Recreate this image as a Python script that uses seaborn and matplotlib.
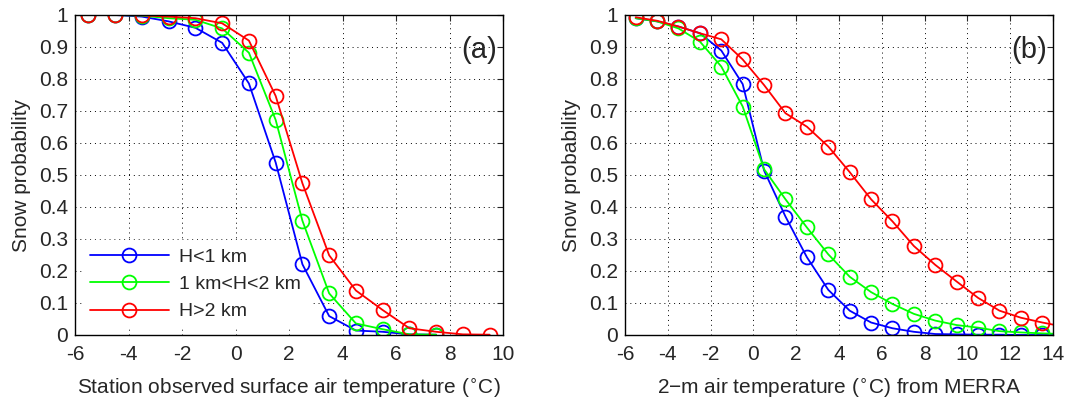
import numpy as np
import pandas as pd
import seaborn as sns
import matplotlib.pyplot as plt
from matplotlib.ticker import FormatStrFormatter

# panel (a): station observed temperature bins
temp_a = [-5.5, -4.5, -3.5, -2.5, -1.5, -0.5, 0.5, 1.5, 2.5, 3.5, 4.5, 5.5, 6.5, 7.5, 8.5, 9.5]
low_a = [1.0, 1.0, 0.995, 0.98, 0.96, 0.913, 0.786, 0.539, 0.221, 0.059, 0.014, 0.01, 0.002, 0.001]
mid_a = [1.0, 1.0, 0.998, 0.99, 0.985, 0.958, 0.882, 0.672, 0.357, 0.13, 0.036, 0.018, 0.002, 0.001]
high_a = [1.0, 1.0, 0.999, 0.995, 0.99, 0.974, 0.92, 0.747, 0.474, 0.249, 0.139, 0.078, 0.021, 0.01, 0.002, 0.001]

# panel (b): MERRA 2-m temperature bins (last bin sits past the axis edge)
temp_b = [-5.5, -4.5, -3.5, -2.5, -1.5, -0.5, 0.5, 1.5, 2.5, 3.5, 4.5, 5.5, 6.5,
          7.5, 8.5, 9.5, 10.5, 11.5, 12.5, 13.5, 14.5]
low_b = [0.99, 0.98, 0.964, 0.943, 0.889, 0.784, 0.514, 0.37, 0.243, 0.141, 0.076,
         0.039, 0.021, 0.01, 0.003, 0.002, 0.001, 0.001, 0.0, 0.0, 0.0]
mid_b = [0.99, 0.98, 0.958, 0.917, 0.839, 0.714, 0.518, 0.424, 0.336, 0.252, 0.182,
         0.134, 0.097, 0.066, 0.045, 0.031, 0.023, 0.012, 0.008, 0.005, 0.003]
high_b = [0.993, 0.982, 0.964, 0.943, 0.924, 0.861, 0.781, 0.693, 0.651, 0.589, 0.509,
          0.424, 0.355, 0.278, 0.219, 0.167, 0.116, 0.076, 0.054, 0.039, 0.026]

labels = ['H<1 km', '1 km<H<2 km', 'H>2 km']
colors = ['#0000ff', '#00ff00', '#ff0000']

sns.set_style('white')
plt.rcParams['font.family'] = ['Liberation Sans', 'DejaVu Sans']
plt.rcParams['axes.unicode_minus'] = False
plt.rcParams['xtick.direction'] = 'in'
plt.rcParams['ytick.direction'] = 'in'

fig = plt.figure(figsize=(10.66, 4.01), dpi=100)
ax_a = fig.add_axes([0.0704, 0.1646, 0.4015, 0.798])
ax_b = fig.add_axes([0.5863, 0.1646, 0.4015, 0.798])


def draw(ax, temps, series):
    for vals, lab, col in zip(series, labels, colors):
        df = pd.DataFrame({'t': temps[:len(vals)], 'p': vals})
        sns.lineplot(data=df, x='t', y='p', ax=ax, color=col, label=lab,
                     marker='o', markersize=10, markerfacecolor='none',
                     markeredgecolor=col, markeredgewidth=1.3, linewidth=1.3,
                     legend=False)


draw(ax_a, temp_a, [low_a, mid_a, high_a])
draw(ax_b, temp_b, [low_b, mid_b, high_b])

for ax, xmax, letter, xl in [(ax_a, 10, '(a)', 'Station observed surface air temperature ($^{\\circ}$C)'),
                             (ax_b, 14, '(b)', '2\u2212m air temperature ($^{\\circ}$C) from MERRA')]:
    ax.set_xlim(-6, xmax)
    ax.set_ylim(0, 1)
    ax.set_xticks(np.arange(-6, xmax + 1, 2))
    ax.set_yticks(np.arange(0, 1.01, 0.1))
    ax.yaxis.set_major_formatter(FormatStrFormatter('%g'))
    ax.grid(True, color='black', linestyle=(0, (1, 4)), linewidth=0.7)
    ax.tick_params(labelsize=15, length=4, top=True, right=True, width=0.8)
    ax.tick_params(axis='x', pad=7)
    ax.tick_params(axis='y', pad=5)
    for s in ax.spines.values():
        s.set_color('black')
        s.set_linewidth(1.0)
    ax.set_xlabel(xl, fontsize=15, labelpad=9)
    ax.set_ylabel('Snow probability', fontsize=15, labelpad=6)
    ax.text(0.985, 0.89, letter, transform=ax.transAxes, ha='right', va='center', fontsize=21)

leg = ax_a.legend(loc='lower left', fontsize=14, frameon=True, handlelength=4.1,
                  borderaxespad=0.35, labelspacing=0.5, handletextpad=0.5)
leg.get_frame().set_edgecolor('white')
leg.get_frame().set_alpha(1)
leg.get_frame().set_boxstyle('square', pad=0.0)
# white box hides the grid but stays under the curves
leg.set_zorder(1.8)

fig.savefig('out.png', dpi=100)
